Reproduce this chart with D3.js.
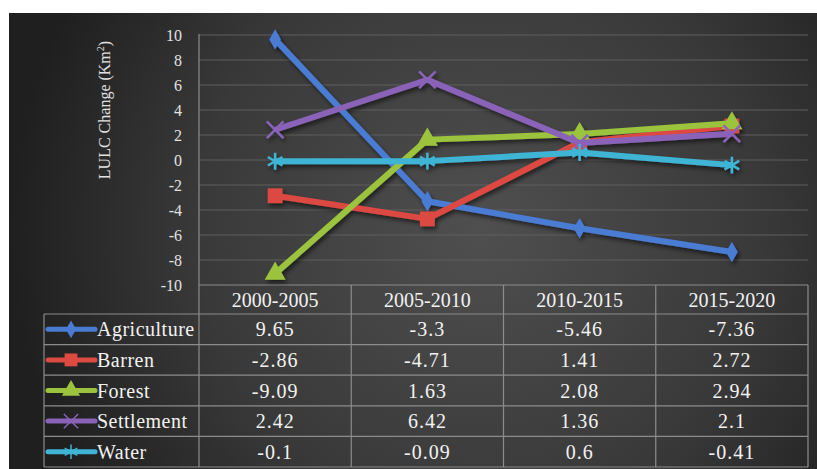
<!DOCTYPE html>
<html>
<head>
  <meta charset="utf-8">
  <script src="https://d3js.org/d3.v7.min.js"></script>
  <style>
    body { margin: 0; background: #fff; }
    svg { display: block; }
    svg text { font-family: "Liberation Serif", "Times New Roman", Times, serif !important; }
  </style>
</head>
<body>
  <svg width="817" height="469"></svg>
  <script>
    // chart values
    var periods = ["2000-2005", "2005-2010", "2010-2015", "2015-2020"];
    var seriesNames = ["Agriculture", "Barren", "Forest", "Settlement", "Water"];
    var agriculture = [9.65, -3.3, -5.46, -7.36];
    var barren = [-2.86, -4.71, 1.41, 2.72];
    var forest = [-9.09, 1.63, 2.08, 2.94];
    var settlement = [2.42, 6.42, 1.36, 2.1];
    var water = [-0.1, -0.09, 0.6, -0.41];
    var yTicks = [-10, -8, -6, -4, -2, 0, 2, 4, 6, 8, 10];

    var values = [agriculture, barren, forest, settlement, water];
    var colors = ["#4a7bd2", "#dc4a42", "#9cc33e", "#8a62b8", "#3fb4d4"];
    var symbols = [
      {type: d3.symbolDiamond, size: 120, fill: true},
      {type: d3.symbolSquare, size: 220, fill: true},
      {type: d3.symbolTriangle, size: 190, fill: true},
      {type: d3.symbolTimes, size: 180, fill: false},
      {type: d3.symbolAsterisk, size: 200, fill: false}
    ];
    var series = seriesNames.map(function(n, i) {
      return {name: n, vals: values[i], color: colors[i], sym: symbols[i]};
    });

    var serif = "'Liberation Serif', 'Times New Roman', serif";
    var svg = d3.select("svg");
    var defs = svg.append("defs");

    var grad = defs.append("radialGradient")
      .attr("id", "bg")
      .attr("gradientUnits", "userSpaceOnUse")
      .attr("cx", 480).attr("cy", 230).attr("r", 470);
    grad.append("stop").attr("offset", "0%").attr("stop-color", "#4f4f4f");
    grad.append("stop").attr("offset", "60%").attr("stop-color", "#393939");
    grad.append("stop").attr("offset", "100%").attr("stop-color", "#1f1f1f");

    var shadow = defs.append("filter").attr("id", "shadow")
      .attr("x", "-20%").attr("y", "-20%").attr("width", "140%").attr("height", "140%");
    shadow.append("feDropShadow")
      .attr("dx", 2).attr("dy", 3).attr("stdDeviation", 2)
      .attr("flood-color", "#000").attr("flood-opacity", 0.55);

    svg.append("rect")
      .attr("x", 9).attr("y", 13).attr("width", 808).attr("height", 456)
      .attr("fill", "url(#bg)");

    var pLeft = 199, pRight = 808, pTop = 35, pBottom = 285;
    var rowH = 30.6, headH = 29;

    var x = d3.scaleBand().domain(periods).range([pLeft, pRight]);
    var y = d3.scaleLinear().domain([-10, 10]).range([pBottom, pTop]);

    // gridlines
    svg.append("g").selectAll("line")
      .data(yTicks)
      .enter().append("line")
      .attr("x1", pLeft).attr("x2", pRight)
      .attr("y1", function(d) { return y(d); })
      .attr("y2", function(d) { return y(d); })
      .attr("stroke", function(d) { return d === -10 ? "#8c8c8c" : "#5e5e5e"; })
      .attr("stroke-width", 1);

    // y axis
    var yAxis = svg.append("g")
      .attr("transform", "translate(" + pLeft + ",0)")
      .call(d3.axisLeft(y).tickValues(yTicks).tickSize(0).tickPadding(17)
        .tickFormat(function(d) { return String(d); }));
    yAxis.select(".domain").remove();
    yAxis.attr("font-family", serif).attr("font-size", null);
    yAxis.selectAll("text")
      .attr("fill", "#e2e2e2")
      .style("font-size", "16px");

    var title = svg.append("text")
      .attr("transform", "translate(110,110) rotate(-90)")
      .attr("text-anchor", "middle")
      .attr("fill", "#e2e2e2")
      .style("font-size", "16px");
    title.append("tspan").text("LULC Change (Km");
    title.append("tspan").attr("dy", -6).style("font-size", "10px").text("2");
    title.append("tspan").attr("dy", 6).text(")");

    // table
    var tableBottom = pBottom + headH + rowH * seriesNames.length;
    var tbl = svg.append("g").attr("stroke", "#8c8c8c").attr("stroke-width", 1.2).attr("fill", "none");
    tbl.append("line").attr("x1", pLeft).attr("x2", pLeft).attr("y1", pTop - 1).attr("y2", tableBottom);
    periods.forEach(function(p) {
      var xr = x(p) + x.bandwidth();
      tbl.append("line").attr("x1", xr).attr("x2", xr).attr("y1", pBottom).attr("y2", tableBottom);
    });
    tbl.append("line").attr("x1", 44).attr("x2", 44).attr("y1", pBottom + headH).attr("y2", tableBottom);
    for (var r = 0; r <= seriesNames.length; r++) {
      var yy = pBottom + headH + r * rowH;
      tbl.append("line").attr("x1", 44).attr("x2", pRight).attr("y1", yy).attr("y2", yy);
    }

    // header labels
    svg.append("g").selectAll("text")
      .data(periods)
      .enter().append("text")
      .attr("x", function(d) { return x(d) + x.bandwidth() / 2; })
      .attr("y", pBottom + headH / 2 + 7)
      .attr("text-anchor", "middle")
      .attr("fill", "#f2f2f2")
      .style("font-size", "20px")
      .text(function(d) { return d; });

    // value cells + legend keys
    series.forEach(function(s, i) {
      var cy = pBottom + headH + i * rowH + rowH / 2;
      svg.append("g").selectAll("text")
        .data(s.vals)
        .enter().append("text")
        .attr("x", function(d, j) { return x(periods[j]) + x.bandwidth() / 2; })
        .attr("y", cy + 7)
        .attr("text-anchor", "middle")
        .attr("fill", "#f2f2f2")
        .style("font-size", "20px")
        .style("letter-spacing", "1px")
        .text(function(d) { return d; });

      var key = svg.append("g");
      key.append("line")
        .attr("x1", 48).attr("x2", 95).attr("y1", cy).attr("y2", cy)
        .attr("stroke", s.color).attr("stroke-width", 5).attr("stroke-linecap", "round");
      key.append("path")
        .attr("transform", "translate(71," + cy + ")")
        .attr("d", d3.symbol().type(s.sym.type).size(s.sym.size * 0.75)())
        .attr("fill", s.sym.fill ? s.color : "none")
        .attr("stroke", s.color)
        .attr("stroke-width", s.sym.fill ? 0 : 1.5);
      key.append("text")
        .attr("x", 97).attr("y", cy + 7)
        .attr("fill", "#f2f2f2")
        .style("font-size", "20px")
        .style("letter-spacing", "0.5px")
        .text(s.name);
    });

    // lines and markers
    var line = d3.line()
      .x(function(d, j) { return x(periods[j]) + x.bandwidth() / 2; })
      .y(function(d) { return y(d); });

    var plot = svg.append("g").attr("filter", "url(#shadow)");
    series.forEach(function(s) {
      var g = plot.append("g");
      g.append("path")
        .attr("d", line(s.vals))
        .attr("fill", "none")
        .attr("stroke", s.color)
        .attr("stroke-width", 6)
        .attr("stroke-linejoin", "round");
      g.selectAll("path.m")
        .data(s.vals)
        .enter().append("path")
        .attr("class", "m")
        .attr("transform", function(d, j) {
          return "translate(" + (x(periods[j]) + x.bandwidth() / 2) + "," + y(d) + ")";
        })
        .attr("d", d3.symbol().type(s.sym.type).size(s.sym.size)())
        .attr("fill", s.sym.fill ? s.color : "none")
        .attr("stroke", s.color)
        .attr("stroke-width", s.sym.fill ? 0 : 2.5);
    });
  </script>
</body>
</html>
